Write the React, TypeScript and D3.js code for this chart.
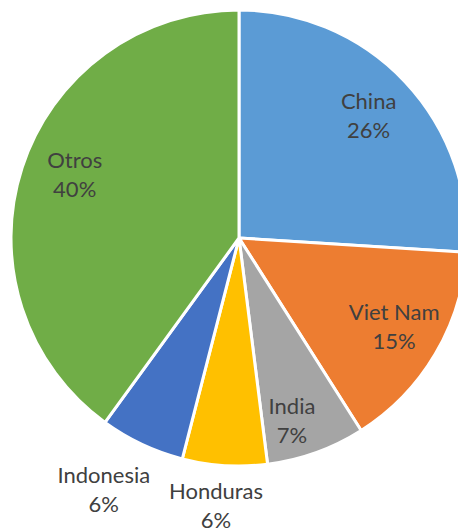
import React from "react";
import * as d3 from "d3";

const categories = ["China", "Viet Nam", "India", "Honduras", "Indonesia", "Otros"];
const values = [26, 15, 7, 6, 6, 40];
const labels = ["26%", "15%", "7%", "6%", "6%", "40%"];
const colors = ["#5B9BD5", "#ED7D31", "#A5A5A5", "#FFC000", "#4472C4", "#70AD47"];
const labelRadiusFactor = [0.78, 0.785, 0.833, 1.18, 1.255, 0.772];
const labelAngleOffsetDeg = [0, -0.7, 3.6, 1.3, 3, 3];

const W = 458;
const H = 531;
const cx = 239;
const cy = 238;
const R = 228;
const FS = 22;
const LINE = 29;

export default function App() {
  const pie = d3.pie<number>().sort(null).value((d) => d)(values);
  const arc = d3.arc<d3.PieArcDatum<number>>().innerRadius(0).outerRadius(R);
  return (
    <svg
      width={W}
      height={H}
      style={{ position: "absolute", left: 0, top: 0, display: "block", background: "#fff" }}
    >
      <g transform={`translate(${cx},${cy})`}>
        {pie.map((p, i) => (
          <path key={i} d={arc(p) || ""} fill={colors[i]} stroke="#fff" strokeWidth={3} strokeLinejoin="round" />
        ))}
        {pie.map((p, i) => {
          const mid = (p.startAngle + p.endAngle) / 2 + (labelAngleOffsetDeg[i] * Math.PI) / 180;
          const r = R * labelRadiusFactor[i];
          const x = r * Math.sin(mid);
          const y = -r * Math.cos(mid);
          return (
            <text
              key={"t" + i}
              x={x}
              y={y - LINE / 2 + FS * 0.35}
              textAnchor="middle"
              fontFamily="Lato, 'Open Sans', sans-serif"
              fontSize={FS}
              fill="#404040"
            >
              <tspan x={x}>{categories[i]}</tspan>
              <tspan x={x} dy={LINE}>{labels[i]}</tspan>
            </text>
          );
        })}
      </g>
    </svg>
  );
}
